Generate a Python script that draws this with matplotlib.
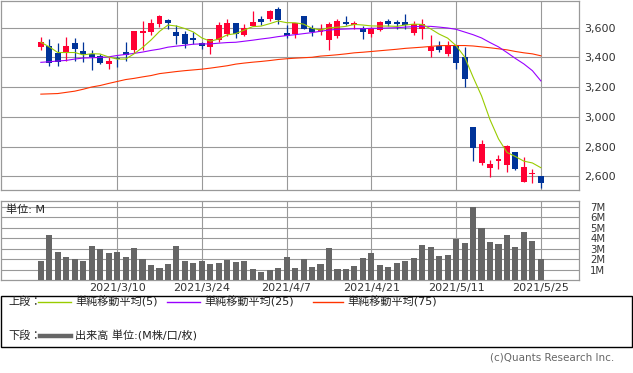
import matplotlib
matplotlib.use('Agg')
import matplotlib.pyplot as plt
from matplotlib.lines import Line2D
from matplotlib.patches import Rectangle
from matplotlib.ticker import FuncFormatter

plt.rcParams['font.family'] = ['DejaVu Sans', 'Noto Sans CJK JP']

dates = ['2021/2/25', '2021/2/26', '2021/3/1', '2021/3/2', '2021/3/3', '2021/3/4', '2021/3/5',
         '2021/3/8', '2021/3/9', '2021/3/10', '2021/3/11', '2021/3/12', '2021/3/15', '2021/3/16',
         '2021/3/17', '2021/3/18', '2021/3/19', '2021/3/22', '2021/3/23', '2021/3/24', '2021/3/25',
         '2021/3/26', '2021/3/29', '2021/3/30', '2021/3/31', '2021/4/1', '2021/4/2', '2021/4/5',
         '2021/4/6', '2021/4/7', '2021/4/8', '2021/4/9', '2021/4/12', '2021/4/13', '2021/4/14',
         '2021/4/15', '2021/4/16', '2021/4/19', '2021/4/20', '2021/4/21', '2021/4/22', '2021/4/23',
         '2021/4/26', '2021/4/27', '2021/4/28', '2021/4/30', '2021/5/6', '2021/5/7', '2021/5/10',
         '2021/5/11', '2021/5/12', '2021/5/13', '2021/5/14', '2021/5/17', '2021/5/18', '2021/5/19',
         '2021/5/20', '2021/5/21', '2021/5/24', '2021/5/25']

opens = [3471, 3476, 3433, 3433, 3496, 3442, 3424, 3411, 3356, 3393,
         3436, 3449, 3562, 3569, 3622, 3649, 3569, 3556, 3529, 3496,
         3471, 3516, 3556, 3629, 3549, 3609, 3656, 3656, 3729, 3562,
         3556, 3676, 3596, 3573, 3518, 3544, 3636, 3618, 3600, 3558,
         3582, 3644, 3636, 3636, 3564, 3591, 3444, 3478, 3422, 3478,
         3400, 2929, 2689, 2656, 2704, 2678, 2762, 2564, 2613, 2604]

highs = [3536, 3522, 3498, 3536, 3529, 3502, 3453, 3420, 3404, 3409,
         3502, 3576, 3645, 3656, 3684, 3656, 3616, 3576, 3569, 3502,
         3522, 3636, 3656, 3629, 3622, 3709, 3676, 3722, 3742, 3616,
         3629, 3682, 3616, 3622, 3636, 3656, 3682, 3644, 3613, 3604,
         3644, 3656, 3649, 3689, 3642, 3656, 3553, 3509, 3511, 3482,
         3467, 2929, 2842, 2713, 2742, 2809, 2762, 2733, 2647, 2604]

lows = [3449, 3344, 3344, 3376, 3376, 3371, 3316, 3356, 3322, 3338,
        3376, 3433, 3449, 3549, 3604, 3591, 3489, 3462, 3489, 3456,
        3422, 3502, 3542, 3529, 3542, 3609, 3616, 3642, 3622, 3529,
        3529, 3589, 3544, 3549, 3449, 3533, 3616, 3593, 3522, 3538,
        3576, 3613, 3591, 3591, 3549, 3522, 3400, 3436, 3409, 3322,
        3204, 2702, 2676, 2598, 2649, 2631, 2644, 2564, 2558, 2520]

closes = [3502, 3360, 3371, 3476, 3456, 3420, 3400, 3362, 3376, 3387,
          3418, 3576, 3576, 3629, 3678, 3631, 3542, 3489, 3516, 3478,
          3522, 3616, 3629, 3556, 3596, 3636, 3636, 3709, 3649, 3542,
          3629, 3589, 3569, 3591, 3622, 3642, 3622, 3631, 3571, 3596,
          3636, 3622, 3622, 3616, 3622, 3627, 3471, 3449, 3482, 3364,
          3256, 2789, 2816, 2682, 2716, 2804, 2649, 2660, 2620, 2558]

ma5 = [3502, 3471, 3433, 3433, 3433, 3417, 3425, 3423, 3403, 3389,
       3389, 3424, 3467, 3517, 3575, 3618, 3611, 3594, 3571, 3531,
       3509, 3524, 3552, 3560, 3584, 3607, 3611, 3627, 3645, 3634,
       3633, 3624, 3596, 3584, 3600, 3603, 3609, 3622, 3618, 3612,
       3611, 3611, 3609, 3618, 3624, 3622, 3592, 3557, 3530, 3479,
       3404, 3268, 3141, 2981, 2852, 2761, 2733, 2702, 2690, 2658]

ma25 = [3367, 3371, 3376, 3380, 3389, 3396, 3398, 3400, 3404, 3413,
        3420, 3427, 3436, 3447, 3456, 3469, 3476, 3482, 3489, 3491,
        3491, 3496, 3500, 3502, 3509, 3516, 3524, 3531, 3540, 3547,
        3553, 3560, 3567, 3576, 3584, 3589, 3591, 3593, 3593, 3596,
        3596, 3598, 3600, 3604, 3607, 3609, 3609, 3604, 3598, 3589,
        3571, 3553, 3531, 3500, 3471, 3433, 3393, 3356, 3311, 3242]

ma75 = [3153, 3155, 3157, 3165, 3173, 3186, 3201, 3211, 3225, 3238,
        3251, 3259, 3269, 3278, 3291, 3298, 3305, 3311, 3316, 3321,
        3328, 3336, 3344, 3355, 3362, 3368, 3373, 3379, 3386, 3391,
        3395, 3398, 3401, 3409, 3413, 3418, 3424, 3431, 3435, 3440,
        3445, 3450, 3455, 3461, 3465, 3469, 3474, 3479, 3480, 3480,
        3480, 3477, 3471, 3465, 3458, 3451, 3440, 3431, 3424, 3411]

volume = [1.85, 4.35, 2.68, 2.20, 2.01, 1.85, 3.26, 2.97, 2.59, 2.68,
          2.20, 3.07, 2.01, 1.44, 1.15, 1.53, 3.26, 1.85, 1.63, 1.85,
          1.53, 1.63, 1.95, 1.73, 1.85, 1.05, 0.77, 0.96, 1.15, 2.20,
          1.15, 2.01, 1.25, 1.53, 3.07, 1.05, 1.05, 1.34, 2.11, 2.59,
          1.44, 1.25, 1.63, 1.82, 2.11, 3.35, 3.16, 2.30, 2.40, 3.96,
          3.55, 7.00, 4.98, 3.64, 3.45, 4.31, 3.16, 4.60, 3.74, 2.01]

tick_dates = ['2021/3/10', '2021/3/24', '2021/4/7', '2021/4/21', '2021/5/11', '2021/5/25']
price_ticks = [2600, 2800, 3000, 3200, 3400, 3600]
vol_ticks = [1, 2, 3, 4, 5, 6, 7]
vol_tick_labels = ['1M', '2M', '3M', '4M', '5M', '6M', '7M']

legend_labels = ['単純移動平均(5)', '単純移動平均(25)', '単純移動平均(75)']
volume_label = '出来高 単位:(M株/口/枚)'

UP = '#FF0033'
DOWN = '#003399'
C5 = '#99CC00'
C25 = '#9900FF'
C75 = '#FF3300'
GRID = '#999999'
VOLC = '#666666'
TXT = '#333333'

W, H = 633, 373
fig = plt.figure(figsize=(W / 100, H / 100), dpi=100)
fig.patch.set_facecolor('white')


def fx(px):
    return px / W


def fy(py):
    return 1 - py / H


x = list(range(len(dates)))
tick_pos = [dates.index(d) for d in tick_dates]
XL = (-4.76, 63.5)

# ---------------- price panel ----------------
ax = fig.add_axes([fx(0.5), fy(190.3), fx(579) - fx(0.5), fy(0.5) - fy(190.3)])
ax.set_xlim(*XL)
ax.set_ylim(2506, 3783)
ax.set_xticks(tick_pos)
ax.set_xticklabels([])
ax.set_yticks(price_ticks)
ax.yaxis.set_major_formatter(FuncFormatter(lambda v, p: f'{int(v):,}'))
ax.yaxis.tick_right()
ax.tick_params(axis='both', length=0, labelsize=8, colors=TXT)
ax.tick_params(axis='y', pad=3.5)
ax.grid(True, color=GRID, linewidth=0.8)
ax.set_axisbelow(True)
for s in ax.spines.values():
    s.set_color(GRID)
    s.set_linewidth(0.9)

for i in x:
    o, c, h, l = opens[i], closes[i], highs[i], lows[i]
    col = UP if c >= o else DOWN
    ax.vlines(i, l, h, color=col, linewidth=0.9, zorder=3)
    bottom = min(o, c)
    height = max(abs(c - o), 5)
    ax.bar(i, height, bottom=bottom, width=0.7, color=col, linewidth=0, zorder=4)

ax.plot(x, ma75, color=C75, linewidth=0.8, zorder=5)
ax.plot(x, ma25, color=C25, linewidth=0.8, zorder=5)
ax.plot(x, ma5, color=C5, linewidth=0.8, zorder=5)

# ---------------- volume panel ----------------
ax2 = fig.add_axes([fx(0.5), fy(280), fx(579) - fx(0.5), fy(201.3) - fy(280)])
ax2.set_xlim(*XL)
ax2.set_ylim(0, 7.55)
ax2.set_xticks(tick_pos)
ax2.set_xticklabels(tick_dates)
ax2.set_yticks(vol_ticks)
ax2.set_yticklabels(vol_tick_labels)
ax2.yaxis.tick_right()
ax2.tick_params(axis='both', length=0, colors=TXT)
ax2.tick_params(axis='x', labelsize=8, pad=2.5)
ax2.tick_params(axis='y', labelsize=7.3, pad=8)
ax2.grid(True, color=GRID, linewidth=0.8)
ax2.set_axisbelow(True)
for s in ax2.spines.values():
    s.set_color(GRID)
    s.set_linewidth(0.9)
ax2.bar(x, volume, width=0.72, color=VOLC, linewidth=0, zorder=3)
ax2.text(5 / (579 - 0.5), 1 - (209.5 - 201.3) / (280 - 201.3), '単位: M',
         transform=ax2.transAxes, fontsize=8, va='center', ha='left', color='#222222')

# ---------------- legend box ----------------
fig.patches.append(Rectangle((fx(0.5), fy(347)), fx(632) - fx(0.5), fy(296) - fy(347),
                             transform=fig.transFigure, fill=False, edgecolor='#000000',
                             linewidth=1.0))

row1 = fy(302)
row2 = fy(336)
fig.text(fx(8), row1, '上段：', fontsize=8, va='center', ha='left', color='#222222')
fig.text(fx(8), row2, '下段：', fontsize=8, va='center', ha='left', color='#222222')

for (x0, x1), col, lab, tx in zip([(38, 71), (167, 200), (313, 343)], [C5, C25, C75],
                                  legend_labels, [75, 204, 347]):
    fig.lines.append(Line2D([fx(x0), fx(x1)], [row1, row1], transform=fig.transFigure,
                            color=col, linewidth=1.0))
    fig.text(fx(tx), row1, lab, fontsize=8, va='center', ha='left', color='#222222')

fig.lines.append(Line2D([fx(40), fx(71)], [row2, row2], transform=fig.transFigure,
                        color=VOLC, linewidth=3.2))
fig.text(fx(75), row2, volume_label, fontsize=8, va='center', ha='left', color='#222222')

fig.text(fx(614), fy(357), '(c)Quants Research Inc.', fontsize=7.5, va='center', ha='right',
         color='#666666')

fig.savefig('out.png', dpi=100, facecolor='white')
